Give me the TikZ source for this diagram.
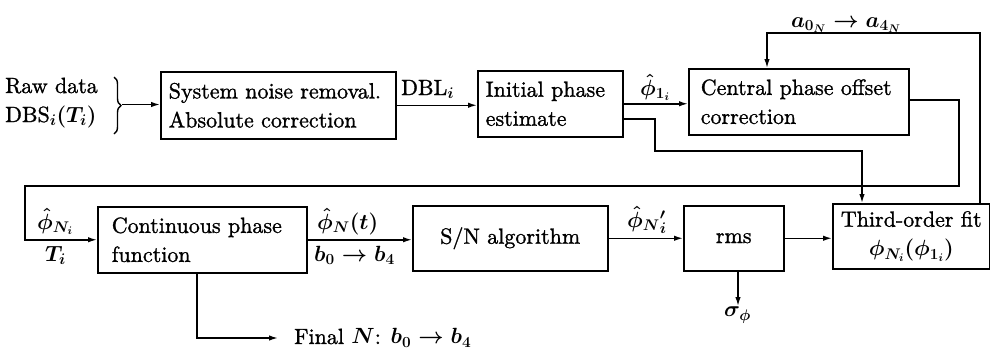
\RequirePackage{fix-cm}
\documentclass[tikz,border=0pt]{standalone}
\usepackage{amsmath,bm}
\usepackage{fontspec}
\setmainfont{lmroman10}[Extension=.otf, UprightFont=*-regular, BoldFont=*-bold, ItalicFont=*-italic, BoldItalicFont=*-bolditalic, UprightFeatures={FakeBold=1.2}]
\usetikzlibrary{arrows.meta,decorations.pathreplacing,calc}
\begin{document}
\begin{tikzpicture}[x=1pt,y=-1pt,
  font=\fontsize{22}{29}\selectfont,
  box/.style={draw, line width=1.5pt, inner xsep=8pt, inner ysep=0pt, align=left, anchor=north west},
  cbox/.style={box, align=center},
  lbl/.style={inner sep=0pt, font=\fontsize{22}{29}\selectfont\boldmath},
  arr/.style={-{Latex[length=9pt,width=5.5pt]}, line width=1.5pt}]
\useasboundingbox (0,0) rectangle (990,354);

% boxes
\node[box, text width=219pt, minimum height=67pt] (noise) at (160,71) {System noise removal.\\Absolute correction};
\node[box, text width=129pt, minimum height=66pt] (init) at (477,70) {Initial phase\\estimate};
\node[box, inner xsep=12pt, text width=196pt, minimum height=66pt] (central) at (688,68) {Central phase offset\\correction};
\node[box, inner xsep=14pt, text width=181pt, minimum height=66pt] (cont) at (97,206) {Continuous phase\\function};
\node[cbox, text width=179pt, minimum height=65pt] (sn) at (412,205) {S/N algorithm};
\node[cbox, text width=84pt, minimum height=65pt] (rms) at (683,205) {rms};
\node[cbox, inner xsep=6pt, text width=145pt, minimum height=65pt] (third) at (832,203) {Third-order fit\\{\boldmath$\phi_{N_i}(\phi_{1_i})$}};

% input labels and brace
\node[lbl, anchor=base west] (raw) at (5,93) {Raw data};
\node[lbl, anchor=base west] (dbs) at (5,122) {DBS$_i(T_i)$};
\draw[decorate, decoration={brace, amplitude=7pt}, line width=1.4pt] (114,77) -- (114,134);
\coordinate (bt) at (122,104.5);
\draw[arr] (bt) -- (bt -| noise.west);

% top row connections
\draw[arr] (noise.east) -- (noise.east -| init.west);
\node[lbl, anchor=base west] (dbl) at (401,95) {DBL$_i$};
\draw[arr] (init.east) -- (init.east -| central.west);
\node[lbl, anchor=base west] (p1) at (640,95) {$\hat{\phi}_{1_i}$};

\coordinate (j1) at (655,151);
\coordinate (j2) at (862,151);
\draw[arr] ([yshift=-15pt]init.east) -| (j1) -- (j2) -- (j2 |- third.north);

\coordinate (k1) at (959,186);
\coordinate (k2) at (25,186);
\draw[arr] ([yshift=2pt]central.east) -| (k1) -- (k2) |- (cont.west);
\node[lbl, anchor=base west] (pn) at (37,229) {$\hat{\phi}_{N_i}$};
\node[lbl, anchor=base west] (ti) at (45,261) {$T_i$};

% feedback on top
\coordinate (t1) at (980,33);
\coordinate (t2) at (767,33);
\draw[arr] (third.north -| t1) -- (t1) -- (t2) -- (t2 |- central.north);
\node[lbl, anchor=base] (ac) at (846,27) {$a_{0_N}\rightarrow a_{4_N}$};

% bottom row connections
\draw[arr] (cont.east) -- (cont.east -| sn.west);
\node[lbl, anchor=base west] (pt) at (317,229) {$\hat{\phi}_N(t)$};
\node[lbl, anchor=base west] (bb) at (314,261) {$b_0\rightarrow b_4$};
\draw[arr] (sn.east) -- (sn.east -| rms.west);
\node[lbl, anchor=base west] (pp) at (627,227) {$\hat{\phi}_{N}{}'_{i}$};
\draw[arr] (rms.east) -- (rms.east -| third.west);

\node[lbl, anchor=north west] (sig) at (724,307) {$\sigma_{\phi}$};
\draw[arr] (rms.south -| 738,0) -- (738,306);

\node[lbl, anchor=west] (fin) at (294,338) {Final $N$: $b_0\rightarrow b_4$};
\coordinate (f1) at (197,338);
\draw[arr] (cont.south -| f1) -- (f1) -- ([xshift=-16pt]fin.west);
\end{tikzpicture}
\end{document}
